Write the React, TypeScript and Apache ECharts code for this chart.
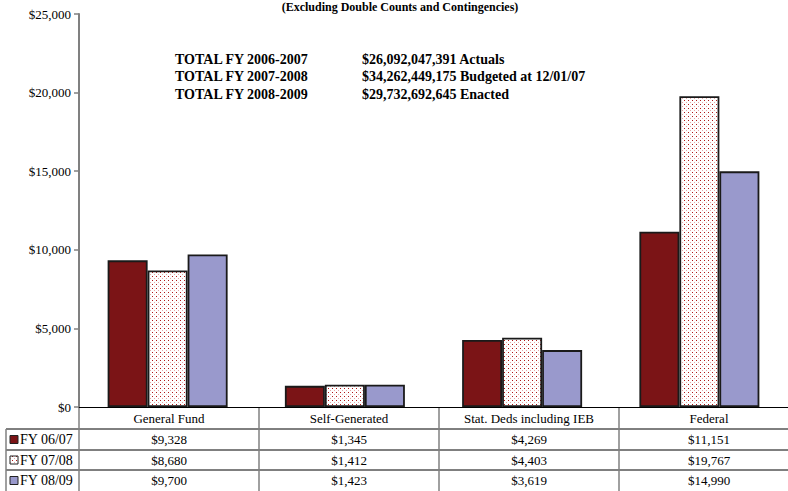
import React, { useEffect, useRef } from "react";
import * as echarts from "echarts";

const categories = ["General Fund", "Self-Generated", "Stat. Deds including IEB", "Federal"];
const seriesNames = ["FY 06/07", "FY 07/08", "FY 08/09"];
const fy0607 = [9328, 1345, 4269, 11151];
const fy0708 = [8680, 1412, 4403, 19767];
const fy0809 = [9700, 1423, 3619, 14990];
const yTicks = { min: 0, max: 25000, interval: 5000 };
const subtitle = "(Excluding Double Counts and Contingencies)";
const totalLabels = ["TOTAL FY 2006-2007", "TOTAL FY 2007-2008", "TOTAL FY 2008-2009"];
const totalValues = [
  "$26,092,047,391 Actuals",
  "$34,262,449,175 Budgeted at 12/01/07",
  "$29,732,692,645 Enacted",
];

const RED = "#7b1416";
const LAV = "#9999cc";
const SERIF = "'Liberation Serif', 'Times New Roman', serif";

function makePattern(): any {
  const c = document.createElement("canvas");
  c.width = 4;
  c.height = 4;
  const ctx = c.getContext("2d")!;
  ctx.fillStyle = "#ffffff";
  ctx.fillRect(0, 0, 4, 4);
  ctx.fillStyle = "#b01818";
  ctx.fillRect(0, 0, 1, 1);
  ctx.fillStyle = "#e4a8a8";
  ctx.fillRect(2, 2, 1, 1);
  return { image: c, repeat: "repeat" };
}

const fmt = (v: number) => "$" + v.toLocaleString("en-US");

export default function App() {
  const ref = useRef<HTMLDivElement>(null);
  useEffect(() => {
    if (!ref.current) return;
    const chart = echarts.init(ref.current, undefined, { renderer: "svg" });
    const pattern = makePattern();
    const gridLeft = 79;
    const gridTop = 14;
    const gridW = 720;
    const gridH = 393;
    const colW = gridW / categories.length;
    const axisY = gridTop + gridH;
    const rowYs = [429, 450, 470, 491];
    const fills = [RED, pattern, LAV];
    const data = [fy0607, fy0708, fy0809];

    const graphics: any[] = [];
    graphics.push({
      type: "text",
      x: 400,
      y: 1,
      style: {
        text: subtitle,
        font: `bold 12px ${SERIF}`,
        fill: "#000",
        textAlign: "center",
        textVerticalAlign: "top",
      },
    });
    totalLabels.forEach((t, i) => {
      graphics.push({
        type: "text",
        x: 175,
        y: 59 + i * 17.5,
        style: { text: t, font: `bold 14px ${SERIF}`, fill: "#000", textVerticalAlign: "middle" },
      });
      graphics.push({
        type: "text",
        x: 362,
        y: 59 + i * 17.5,
        style: { text: totalValues[i], font: `bold 14px ${SERIF}`, fill: "#000", textVerticalAlign: "middle" },
      });
    });
    rowYs.slice(0, 3).forEach((y) => {
      graphics.push({
        type: "line",
        shape: { x1: 6, y1: y, x2: 800, y2: y },
        style: { stroke: "#000", lineWidth: 1 },
      });
    });
    graphics.push({
      type: "line",
      shape: { x1: 6, y1: rowYs[0], x2: 6, y2: 491 },
      style: { stroke: "#808080", lineWidth: 1.5 },
    });
    for (let i = 0; i <= categories.length; i++) {
      const x = gridLeft + i * colW;
      graphics.push({
        type: "line",
        shape: { x1: x, y1: axisY, x2: x, y2: 491 },
        style: { stroke: "#808080", lineWidth: 1.5 },
      });
    }
    categories.forEach((c, i) => {
      const cx = gridLeft + (i + 0.5) * colW;
      graphics.push({
        type: "text",
        x: cx,
        y: (axisY + rowYs[0]) / 2,
        style: { text: c, font: `13px ${SERIF}`, fill: "#000", textAlign: "center", textVerticalAlign: "middle" },
      });
      data.forEach((arr, r) => {
        graphics.push({
          type: "text",
          x: cx,
          y: (rowYs[r] + rowYs[r + 1]) / 2,
          style: {
            text: fmt(arr[i]),
            font: `13px ${SERIF}`,
            fill: "#000",
            textAlign: "center",
            textVerticalAlign: "middle",
          },
        });
      });
    });
    seriesNames.forEach((n, r) => {
      const cy = (rowYs[r] + rowYs[r + 1]) / 2;
      graphics.push({
        type: "rect",
        shape: { x: 10, y: cy - 4, width: 8, height: 8 },
        style: { fill: fills[r], stroke: "#222", lineWidth: 1 },
      });
      graphics.push({
        type: "text",
        x: 20,
        y: cy,
        style: { text: n, font: `14px ${SERIF}`, fill: "#000", textVerticalAlign: "middle" },
      });
    });

    chart.setOption({
      animation: false,
      grid: { left: gridLeft, top: gridTop, width: gridW, height: gridH },
      xAxis: {
        type: "category",
        data: categories,
        axisLine: { lineStyle: { color: "#000", width: 1.2 } },
        axisTick: { show: false },
        axisLabel: { show: false },
      },
      yAxis: {
        type: "value",
        min: yTicks.min,
        max: yTicks.max,
        interval: yTicks.interval,
        splitLine: { show: false },
        axisLine: { show: true, lineStyle: { color: "#808080", width: 2 } },
        axisTick: { show: true, length: 5, lineStyle: { color: "#808080", width: 1.5 } },
        axisLabel: {
          formatter: (v: number) => fmt(v),
          fontFamily: SERIF,
          fontSize: 13,
          color: "#000",
          margin: 8,
        },
      },
      series: seriesNames.map((n, r) => ({
        name: n,
        type: "bar",
        data: data[r],
        barWidth: 40,
        barGap: "0%",
        itemStyle: { color: fills[r], borderColor: "#1a1a1a", borderWidth: 1.8 },
      })),
      graphic: graphics,
    });
    return () => chart.dispose();
  }, []);
  return (
    <div
      ref={ref}
      style={{ position: "fixed", left: 0, top: 0, width: 788, height: 491, background: "#fff" }}
    />
  );
}
